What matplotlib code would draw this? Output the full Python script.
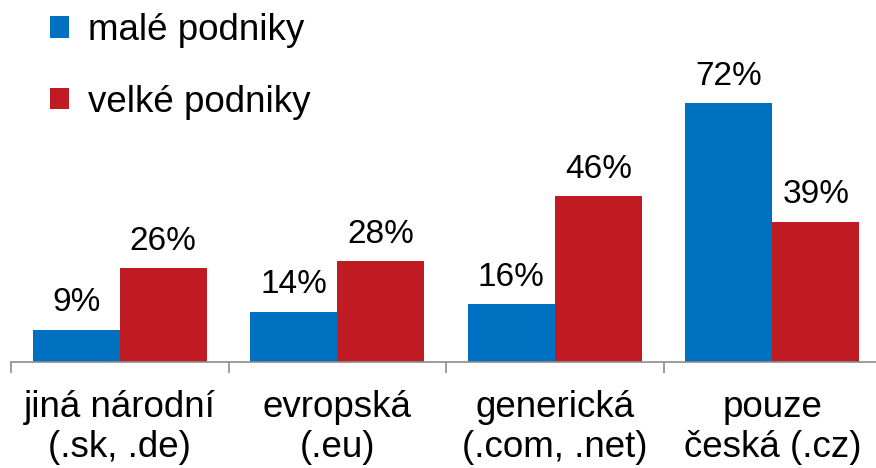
import matplotlib
matplotlib.use("Agg")
import matplotlib.pyplot as plt
from matplotlib.patches import Patch
import numpy as np

plt.rcParams['font.family'] = ['Liberation Sans', 'DejaVu Sans']

categories = ["jiná národní\n(.sk, .de)", "evropská\n(.eu)", "generická\n(.com, .net)", "pouze\nčeská (.cz)"]
series_names = ["malé podniky", "velké podniky"]
male = [9, 14, 16, 72]
velke = [26, 28, 46, 39]
colors = ["#0070C0", "#C01B23"]

W, H = 876, 468
fig = plt.figure(figsize=(W / 100, H / 100), dpi=100)
ax = fig.add_axes([11 / W, 106 / H, 870 / W, 360 / H])

x = np.arange(len(categories)) + 0.5
bw = 0.4
b1 = ax.bar(x - bw / 2, male, width=bw, color=colors[0], linewidth=0)
b2 = ax.bar(x + bw / 2, velke, width=bw, color=colors[1], linewidth=0)

for bars, vals in ((b1, male), (b2, velke)):
    ax.bar_label(bars, labels=[f"{v}%" for v in vals], padding=8, fontsize=24, color="black")

ax.set_xlim(0, len(categories))
ax.set_ylim(0, 100)

for s in ("top", "right", "left"):
    ax.spines[s].set_visible(False)
ax.spines["bottom"].set_color("#8C8C8C")
ax.spines["bottom"].set_linewidth(1.2)
ax.set_yticks([])

ax.set_xticks(np.arange(len(categories) + 1))
ax.set_xticklabels([])
ax.tick_params(axis="x", which="major", length=8, width=1.2, color="#8C8C8C", direction="out")
ax.set_xticks(x, minor=True)
ax.set_xticklabels(categories, minor=True, fontsize=26.5, linespacing=1.2)
ax.tick_params(axis="x", which="minor", length=0, pad=20)

handles = [Patch(facecolor=c, edgecolor="none") for c in colors]
fig.legend(handles, series_names, loc="upper left", bbox_to_anchor=(50 / W, 1 - 13 / H),
           frameon=False, fontsize=26.5, handlelength=0.52, handleheight=0.52,
           handletextpad=0.52, labelspacing=1.0, borderpad=0, borderaxespad=0)

fig.savefig("out.png", dpi=100)
